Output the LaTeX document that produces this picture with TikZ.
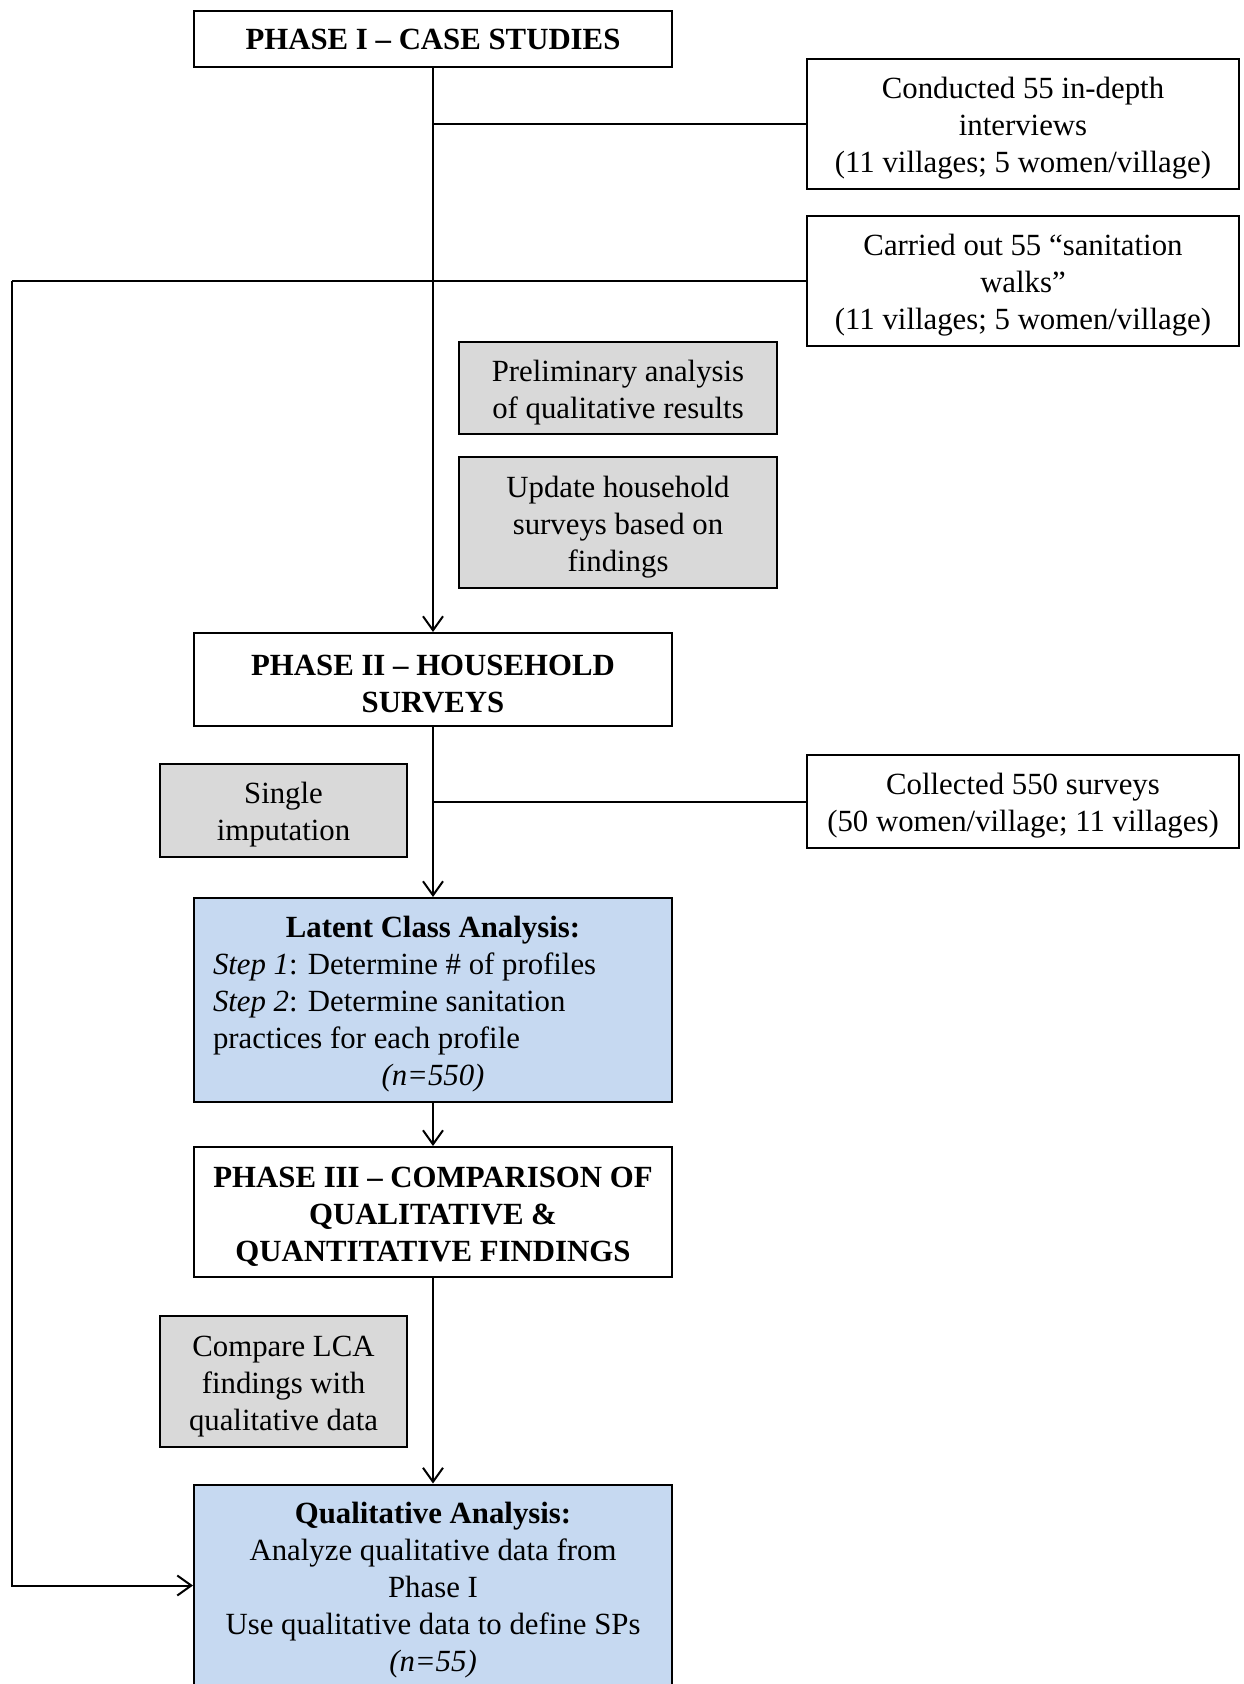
\documentclass[tikz,border=0pt]{standalone}
\usepackage{fontspec}
\setmainfont{Liberation Serif}
\usepackage{tikz}
\usetikzlibrary{arrows.meta}
\usepackage{xcolor}
\definecolor{lcablue}{HTML}{C6D9F1}
\definecolor{stepgrey}{HTML}{D9D9D9}

\begin{document}
\begin{tikzpicture}[
  x=0.5pt, y=-0.5pt,
  every node/.style={font=\fontsize{15.4pt}{18.5pt}\selectfont, line width=1pt,
                     draw, inner sep=0pt, align=flush center},
  padtop/.style={execute at begin node={\rule{0pt}{15pt}}},
  phasebox/.style={minimum width=239pt, font=\fontsize{15.4pt}{18.5pt}\selectfont\bfseries},
  infobox/.style={text width=216pt, padtop},
  greybox/.style={fill=stepgrey, padtop},
  bluebox/.style={fill=lcablue, text width=239pt, padtop},
  arr/.style={line width=1pt, -{Straight Barb[length=7pt,width=10pt]}},
  link/.style={line width=1pt},
]
  \useasboundingbox (0,0) rectangle (1243,1684);
  % phase I and its case study boxes
  \node[phasebox, minimum height=28pt] (ph1) at (433,39) {PHASE I -- CASE STUDIES};
  \node[infobox, minimum height=65pt] (idi) at (1023,124)
    {Conducted 55 in-depth\\interviews\\(11 villages; 5 women/village)};
  \node[infobox, minimum height=65pt] (walk) at (1023,281)
    {Carried out 55 “sanitation\\walks”\\(11 villages; 5 women/village)};
  \node[greybox, text width=159pt, minimum height=46pt] (prelim) at (618,388)
    {Preliminary analysis\\of qualitative results};
  \node[greybox, text width=159pt, minimum height=65.5pt] (update) at (618,522.5)
    {Update household\\surveys based on\\findings};
  % phase II
  \node[phasebox, text width=239pt, padtop, minimum height=46.5pt] (ph2) at (433,679.5)
    {PHASE II -- HOUSEHOLD\\SURVEYS};
  \node[greybox, text width=123.5pt, minimum height=46.5pt] (impute) at (283.5,810.5)
    {Single\\imputation};
  \node[infobox, minimum height=46.5pt] (surv) at (1023,801.5)
    {Collected 550 surveys\\(50 women/village; 11 villages)};
  \node[bluebox, minimum height=102pt, text width=220pt, align=flush left, inner xsep=9.5pt] (lca) at (433,1000)
    {\makebox[220pt][c]{\textbf{Latent Class Analysis:}}\\
     \textit{Step 1}: Determine \# of profiles\\
     \textit{Step 2}: Determine sanitation\\
     practices for each profile\\
     \makebox[220pt][c]{\textit{(n=550)}}};
  % phase III
  \node[phasebox, text width=239pt, padtop, minimum height=65pt] (ph3) at (433,1212)
    {PHASE III -- COMPARISON OF\\QUALITATIVE \&\\QUANTITATIVE FINDINGS};
  \node[greybox, text width=123.5pt, minimum height=65.5pt] (compare) at (283.5,1381.5)
    {Compare LCA\\findings with\\qualitative data};
  \node[bluebox, minimum height=101pt] (qual) at (433,1585.5)
    {\textbf{Qualitative Analysis:}\\Analyze qualitative data from\\Phase I\\
     Use qualitative data to define SPs\\\textit{(n=55)}};
  % connectors
  \coordinate (rail) at (12,281);
  \draw[arr] (ph1.south) -- (ph2.north);
  \draw[link] (idi.west) -- (idi.west -| ph1.south);
  \draw[link] (walk.west) -- (rail);
  \draw[arr] (rail) |- (qual.west);
  \draw[arr] (ph2.south) -- (lca.north);
  \draw[link] (surv.west) -- (surv.west -| ph2.south);
  \draw[arr] (lca.south) -- (ph3.north);
  \draw[arr] (ph3.south) -- (qual.north);
\end{tikzpicture}
\end{document}
